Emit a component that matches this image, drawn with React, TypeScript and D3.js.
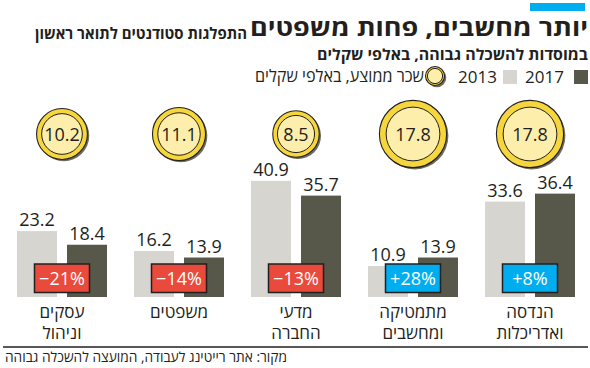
import React from "react";
import * as d3 from "d3";

const categories = [
  ["עסקים", "וניהול"],
  ["משפטים"],
  ["מדעי", "החברה"],
  ["מתמטיקה", "ומחשבים"],
  ["הנדסה", "ואדריכלות"],
];
const values2013 = [23.2, 16.2, 40.9, 10.9, 33.6];
const values2017 = [18.4, 13.9, 35.7, 13.9, 36.4];
const salaries = [10.2, 11.1, 8.5, 17.8, 17.8];
const changes = ["−21%", "−14%", "−13%", "+28%", "+8%"];
const years = ["2013", "2017"];

const W = 590;
const H = 368;
const FONT = "'Open Sans', 'DejaVu Sans', sans-serif";
const DARK = "#57574a";
const LIGHT = "#d6d5d0";
const INK = "#231f20";

const Coin = ({ cx, cy, r }: { cx: number; cy: number; r: number }) => (
  <g>
    <circle cx={cx + 1.8} cy={cy + 1.8} r={r} fill="#6b6b63" />
    <circle cx={cx} cy={cy} r={r} fill="#f5d63c" stroke={INK} strokeWidth={1.1} />
    <circle cx={cx} cy={cy} r={r * 0.8} fill="#fdeeab" stroke={INK} strokeWidth={1} />
  </g>
);

export default function App() {
  const idx = categories.map((_, i) => String(i));
  const x = d3.scaleBand().domain(idx).range([3.5, 588.5]).padding(0);
  const inner = d3.scaleBand().domain(years).range([0, 90]).paddingInner(0.2);
  const y = d3.scaleLinear().domain([0, 50]).range([297, 155]);
  const rScale = d3.scaleSqrt().domain([0, 17.8]).range([0, 33.6]);

  const center = (i: number) => (x(String(i)) as number) + x.bandwidth() / 2;

  return (
    <svg
      width={W}
      height={H}
      style={{ position: "absolute", left: 0, top: 0, background: "#fff" }}
      fontFamily={FONT}
    >
      {/* header */}
      <rect x={530} y={3} width={55} height={8} fill="#00aeef" />
      <text x={588} y={36} textAnchor="end" fontSize={23} fontWeight={700} fill={INK} textLength={338} lengthAdjust="spacingAndGlyphs">
        יותר מחשבים, פחות משפטים
      </text>
      <text x={247} y={38.5} textAnchor="end" fontSize={16} fontWeight={700} fill={INK} textLength={212} lengthAdjust="spacingAndGlyphs">
        התפלגות סטודנטים לתואר ראשון
      </text>
      <text x={588} y={59.5} textAnchor="end" fontSize={15} fontWeight={700} fill={INK} textLength={271} lengthAdjust="spacingAndGlyphs">
        במוסדות להשכלה גבוהה, באלפי שקלים
      </text>

      {/* legend */}
      <rect x={574} y={70} width={14} height={14} fill={DARK} />
      <text x={564} y={83} textAnchor="end" fontSize={17} fill={INK}>2017</text>
      <rect x={503} y={70} width={14} height={14} fill={LIGHT} />
      <text x={497} y={83} textAnchor="end" fontSize={17} fill={INK}>2013</text>
      <Coin cx={435} cy={76} r={9.5} />
      <text x={424} y={82} textAnchor="end" fontSize={17} fill={INK} textLength={169} lengthAdjust="spacingAndGlyphs">
        שכר ממוצע, באלפי שקלים
      </text>

      {categories.map((lines, i) => {
        const cx = center(i);
        const x0 = cx - 45;
        const vals = [values2013[i], values2017[i]];
        const r = rScale(salaries[i]);
        const up = changes[i].startsWith("+");
        return (
          <g key={i}>
            <Coin cx={cx} cy={134} r={r} />
            <text x={cx} y={140.5} textAnchor="middle" fontSize={18} fill={INK}>
              {salaries[i].toFixed(1)}
            </text>
            {years.map((yr, j) => (
              <g key={yr}>
                <rect
                  x={x0 + (inner(yr) as number)}
                  y={y(vals[j])}
                  width={inner.bandwidth()}
                  height={y(0) - y(vals[j])}
                  fill={j === 0 ? LIGHT : DARK}
                />
                <text
                  x={x0 + (inner(yr) as number) + inner.bandwidth() / 2}
                  y={y(vals[j]) - 5}
                  textAnchor="middle"
                  fontSize={18}
                  fill={INK}
                >
                  {vals[j].toFixed(1)}
                </text>
              </g>
            ))}
            <rect
              x={cx - 27.5}
              y={264}
              width={55}
              height={28.5}
              fill={up ? "#00aeef" : "#ea4a3b"}
              stroke={INK}
              strokeWidth={1.5}
            />
            <text x={cx} y={284.5} textAnchor="middle" fontSize={18} fill="#fff">
              {changes[i]}
            </text>
            {lines.map((ln, k) => (
              <text key={k} x={cx} y={318 + k * 21} textAnchor="middle" fontSize={17} fill={INK}>
                {ln}
              </text>
            ))}
          </g>
        );
      })}

      <line x1={3} x2={588} y1={347} y2={347} stroke={INK} strokeWidth={1.5} />
      <text x={287} y={362} textAnchor="end" fontSize={14} fill={INK} textLength={282} lengthAdjust="spacingAndGlyphs">
        מקור: אתר רייטינג לעבודה, המועצה להשכלה גבוהה
      </text>
    </svg>
  );
}
